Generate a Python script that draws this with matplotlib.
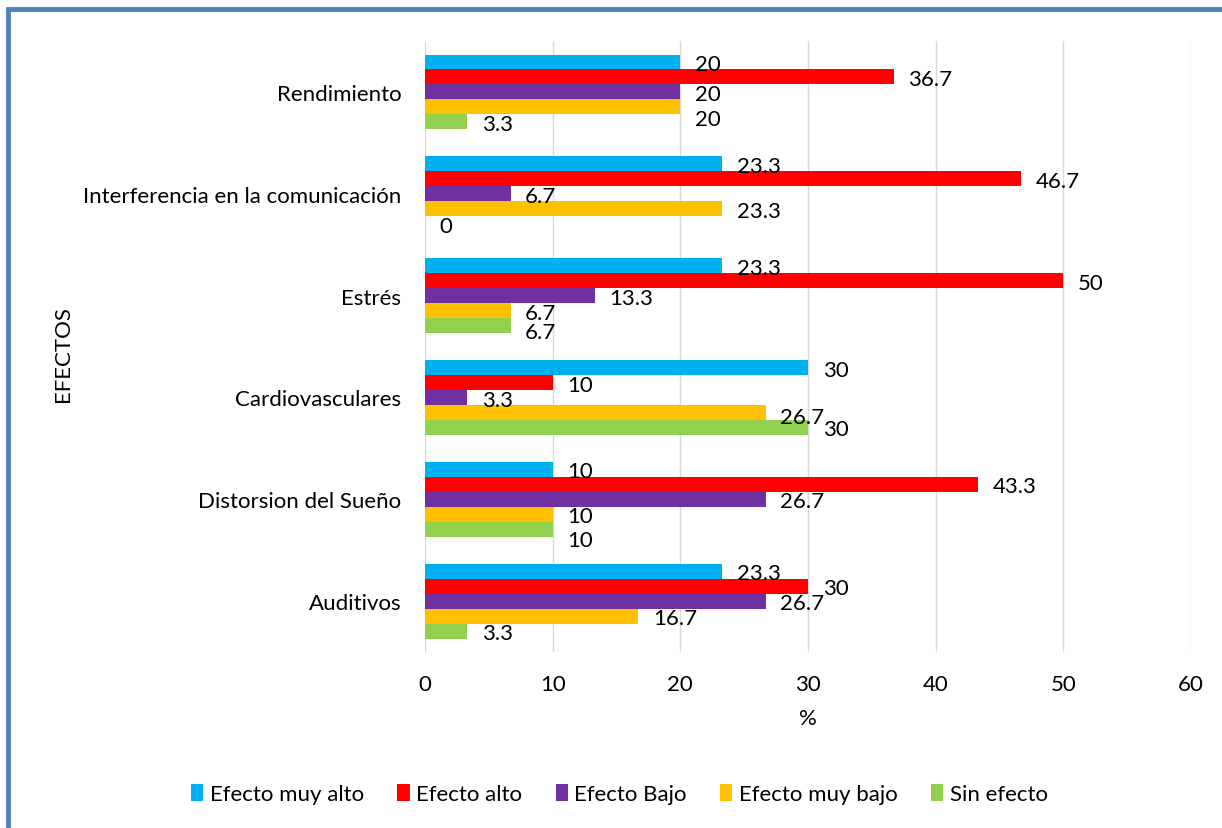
import numpy as np
import matplotlib.pyplot as plt
from matplotlib.patches import Rectangle

plt.rcParams['font.family'] = ['Lato', 'DejaVu Sans']

categories = ["Auditivos", "Distorsion del Sueño", "Cardiovasculares", "Estrés",
              "Interferencia en la comunicación", "Rendimiento"]
series_names = ["Efecto muy alto", "Efecto alto", "Efecto Bajo", "Efecto muy bajo", "Sin efecto"]
muy_alto = [23.3, 10, 30, 23.3, 23.3, 20]
alto = [30, 43.3, 10, 50, 46.7, 36.7]
bajo = [26.7, 26.7, 3.3, 13.3, 6.7, 20]
muy_bajo = [16.7, 10, 26.7, 6.7, 23.3, 20]
sin_efecto = [3.3, 10, 30, 6.7, 0, 3.3]
colors = ["#00B0F0", "#FF0000", "#7030A0", "#FFC000", "#92D050"]

series = [muy_alto, alto, bajo, muy_bajo, sin_efecto]
fs = 16

# labels that Excel pushed down to avoid overlaps (category index, series index) -> points
nudge = {(5, 3): -7, (3, 4): -3.5, (1, 4): -6.5, (2, 3): -2}

fig = plt.figure(figsize=(12.22, 8.29), dpi=100)
ax = fig.add_axes([0.3478, 0.2123, 0.9746 - 0.3478, 0.9493 - 0.2123])

y = np.arange(len(categories))
h = 0.147
for j, (vals, name, c) in enumerate(zip(series, series_names, colors)):
    pos = y + (2 - j) * h
    ax.barh(pos, vals, height=h, color=c, label=name, zorder=3)
    for i, (p, v) in enumerate(zip(pos, vals)):
        lbl = "%g" % v
        dy = -1.5 + nudge.get((i, j), 0)
        ax.annotate(lbl, (v, p), xytext=(10.5, dy), textcoords="offset points",
                    ha="left", va="center", fontsize=fs, color="#000000", zorder=4)

ax.set_xlim(0, 60)
ax.set_ylim(-0.5, len(categories) - 0.5)
ax.set_xticks(range(0, 61, 10))
ax.set_yticks(y)
ax.set_yticklabels(categories)
ax.grid(axis="x", color="#D9D9D9", linewidth=1, zorder=0)
for s in ax.spines.values():
    s.set_visible(False)
ax.tick_params(axis="both", length=0, labelsize=fs)
ax.tick_params(axis="y", pad=17)
ax.tick_params(axis="x", pad=16)
ax.set_xlabel("%", fontsize=fs, labelpad=10)
ax.set_ylabel("EFECTOS", fontsize=fs)
ax.yaxis.set_label_coords(-0.46, 0.49)

fig.legend(loc="center", bbox_to_anchor=(0.507, 0.041), ncol=5, frameon=False,
           fontsize=fs, handlelength=0.55, handleheight=0.8, handletextpad=0.3,
           columnspacing=1.5)

# blue frame around the chart (top and left visible)
fig.patches.append(Rectangle((0.0065, -0.05), 1.2, 1.0385, transform=fig.transFigure,
                             fill=False, edgecolor="#4F81BD", linewidth=3.5))

fig.savefig("out.png", dpi=100)
